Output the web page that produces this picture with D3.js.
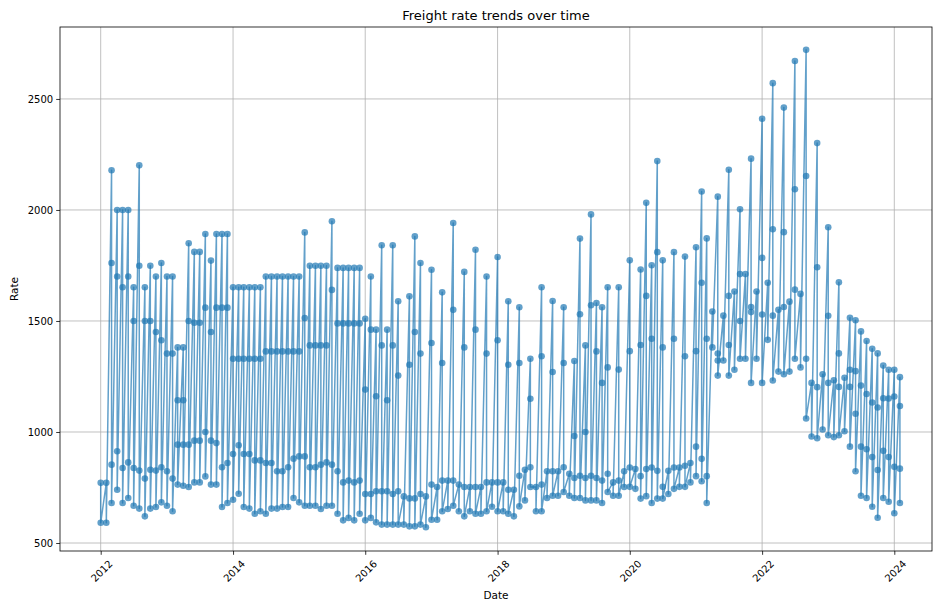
<!DOCTYPE html>
<html>
<head>
<meta charset="utf-8">
<script src="https://cdn.jsdelivr.net/npm/d3@7"></script>
<style>
  body { margin: 0; background: #fff; }
  svg { font-family: "DejaVu Sans", sans-serif; }
</style>
</head>
<body>
<svg id="chart" width="933" height="605"></svg>
<script>
// one entry per month, Jan 2012 .. Feb 2024 (several quotes per month)
var months = d3.timeMonth.range(new Date(2012, 0, 1), new Date(2024, 2, 1));

var peakRate = [
  null, null, 2179, 2000, 2000, 2000, 1652, 2201, 1652, 1749,
  1700, 1761, 1700, 1700, 1381, 1381, 1850, 1811, 1811, 1892,
  1772, 1892, 1892, 1892, 1652, 1652, 1652, 1652, 1652, 1652,
  1700, 1700, 1700, 1700, 1700, 1700, 1700, 1899, 1749, 1749,
  1749, 1749, 1949, 1739, 1739, 1739, 1739, 1739, 1510, 1700,
  1461, 1841, 1461, 1841, 1589, null, 1611, 1881, 1761, null,
  1731, null, 1629, null, 1941, null, 1721, null, 1821, null,
  1700, null, 1788, null, 1589, null, 1562, null, 1330, null,
  1652, null, 1590, null, 1562, null, 1320, 1871, 1390, 1980,
  1581, 1562, 1652, null, 1652, null, 1773, null, 1732, 2032,
  1751, 2220, 1773, null, 1810, null, 1790, null, 1832, 2083,
  1872, null, 2060, null, 2181, null, 2003, null, 2231, null,
  2411, null, 2571, null, 2461, null, 2671, null, 2721, null,
  2301, null, 1922, null, 1674, null, 1514, 1503, 1453, 1410,
  1375, 1354, 1299, 1280, 1280, 1247
];

var upperRate = [
  null, null, 1761, 1700, 1652, 1700, 1500, 1749, 1500, 1500,
  1450, 1413, 1353, 1353, 1143, 1143, 1500, 1492, 1492, 1560,
  1450, 1560, 1560, 1560, 1330, 1330, 1330, 1330, 1330, 1330,
  1363, 1363, 1363, 1363, 1363, 1363, 1363, 1513, 1390, 1390,
  1390, 1390, 1640, 1489, 1489, 1489, 1489, 1489, 1191, 1461,
  1161, 1390, 1143, 1390, 1254, null, 1303, 1450, 1353, null,
  1401, null, 1311, null, 1550, null, 1381, null, 1461, null,
  1353, null, 1413, null, 1303, null, 1311, null, 1150, null,
  1341, null, 1270, null, 1311, null, 982, 1530, 1000, 1571,
  1363, 1221, 1291, null, 1281, null, 1364, null, 1392, 1613,
  1420, 1810, 1381, null, 1420, null, 1341, null, 1364, 1672,
  1420, null, 1353, null, 1613, null, 1711, null, 1563, null,
  1784, null, 1913, null, 1900, null, 2093, null, 2153, null,
  1742, null, 1523, null, 1354, null, 1280, 1274, 1209, 1171,
  1133, 1110, 1152, 1151, 1160, 1117
];

var lowerRate = [
  771, 771, 853, 913, 838, 863, 838, 826, 790, 830,
  826, 841, 823, 790, 943, 943, 943, 961, 961, 1000,
  961, 950, 841, 860, 901, 940, 901, 901, 872, 872,
  860, 860, 823, 823, 841, 880, 890, 890, 841, 841,
  853, 863, 853, 823, 773, 781, 773, 781, 721, 721,
  733, 733, 733, 721, 733, 710, 701, 701, 721, 710,
  763, 752, 781, 781, 781, 763, 752, 752, 752, 752,
  773, 773, 773, 773, 740, 740, 803, 830, 841, 752,
  763, 823, 823, 823, 841, 812, 793, 803, 793, 803,
  793, 781, 812, 773, 781, 823, 840, 833, 801, 833,
  840, 825, 753, 825, 840, 840, 848, 860, 934, 879,
  801, 1543, 1322, 1524, 1392, 1633, 1500, 1711, 1540, 1633,
  1529, 1672, 1524, 1550, 1563, 1587, 1641, 1622, 1330, 1221,
  1202, 1260, 1221, 1233, 1203, 1244, 1203, 1082, 934, 922,
  887, 829, 915, 887, 843, 835
];

var baseRate = [
  591, 591, 680, 740, 680, 703, 668, 655, 620, 655,
  662, 683, 668, 643, 763, 758, 752, 773, 773, 800,
  763, 763, 662, 680, 695, 722, 662, 655, 632, 643,
  632, 655, 655, 662, 662, 703, 683, 668, 668, 668,
  653, 668, 668, 632, 602, 613, 602, 632, 602, 613,
  593, 583, 583, 583, 583, 583, 575, 575, 583, 571,
  605, 605, 643, 653, 668, 643, 620, 643, 632, 632,
  643, 663, 643, 643, 632, 620, 665, 692, 752, 643,
  643, 703, 713, 713, 730, 713, 703, 703, 692, 692,
  692, 680, 730, 713, 713, 752, 753, 744, 700, 711,
  680, 700, 700, 721, 744, 753, 753, 773, 801, 778,
  680, 1381, 1254, 1322, 1254, 1280, 1330, 1330, 1221, 1330,
  1221, 1415, 1232, 1272, 1260, 1272, 1330, 1291, 1061, 980,
  972, 1011, 985, 977, 985, 1003, 934, 823, 713, 703,
  663, 614, 703, 686, 634, 680
];

var yTicks = [500, 1000, 1500, 2000, 2500];
var xTickYears = [2012, 2014, 2016, 2018, 2020, 2022, 2024];

drawChart();

function drawChart() {
  // rows in file order: each month from the highest quote down to the lowest
  var rows = [];
  months.forEach(function(m, i) {
    [peakRate[i], upperRate[i], lowerRate[i], baseRate[i]].forEach(function(v) {
      if (v != null) rows.push({date: m, rate: v});
    });
  });

  var svg = d3.select('#chart');
  var plotLeft = 60, plotRight = 932, plotTop = 27, plotBottom = 551;

  // 2012-01 and 2024-01 sit at fixed pixels, the frame extends past them
  var xBase = d3.scaleTime()
    .domain([new Date(2012, 0, 1), new Date(2024, 0, 1)])
    .range([100.7, 894.3]);
  var x = d3.scaleTime()
    .domain([xBase.invert(plotLeft), xBase.invert(plotRight)])
    .range([plotLeft, plotRight]);
  var y = d3.scaleLinear().domain([464, 2824]).range([plotBottom, plotTop]);

  var xTicks = xTickYears.map(function(yr) { return new Date(yr, 0, 1); });

  // grid
  svg.append('g')
    .selectAll('line')
    .data(xTicks)
    .enter().append('line')
    .attr('x1', function(d) { return x(d); })
    .attr('x2', function(d) { return x(d); })
    .attr('y1', plotTop).attr('y2', plotBottom)
    .style('stroke', '#b0b0b0').style('stroke-width', 0.8);

  svg.append('g')
    .selectAll('line')
    .data(yTicks)
    .enter().append('line')
    .attr('x1', plotLeft).attr('x2', plotRight)
    .attr('y1', function(d) { return y(d); })
    .attr('y2', function(d) { return y(d); })
    .style('stroke', '#b0b0b0').style('stroke-width', 0.8);

  // series
  var line = d3.line()
    .x(function(d) { return x(d.date); })
    .y(function(d) { return y(d.rate); });

  svg.append('path')
    .datum(rows)
    .attr('d', line)
    .style('fill', 'none')
    .style('stroke', '#1f77b4')
    .style('stroke-opacity', 0.7)
    .style('stroke-width', 1.5)
    .style('stroke-linejoin', 'round');

  svg.append('g')
    .selectAll('circle')
    .data(rows)
    .enter().append('circle')
    .attr('cx', function(d) { return x(d.date); })
    .attr('cy', function(d) { return y(d.rate); })
    .attr('r', 3.3)
    .style('fill', '#1f77b4')
    .style('fill-opacity', 0.7);

  // axes
  var xAxis = svg.append('g')
    .attr('transform', 'translate(0,' + plotBottom + ')')
    .call(d3.axisBottom(x).tickValues(xTicks).tickFormat(d3.timeFormat('%Y')).tickSizeOuter(0).tickSize(3.8));
  xAxis.selectAll('text')
    .style('text-anchor', 'end')
    .attr('x', -1)
    .attr('y', 11)
    .attr('dy', '0.71em')
    .attr('transform', 'rotate(-45)');

  svg.append('g')
    .attr('transform', 'translate(' + plotLeft + ',0)')
    .call(d3.axisLeft(y).tickValues(yTicks).tickFormat(d3.format('d')).tickSizeOuter(0).tickSize(3.8));

  svg.selectAll('.domain').remove();
  svg.selectAll('.tick line').style('stroke', '#000').style('stroke-width', 0.8);
  svg.selectAll('.tick text').style('font-size', '10px').style('fill', '#000')
    .style('font-family', '"DejaVu Sans", sans-serif');

  // frame
  svg.append('rect')
    .attr('x', plotLeft).attr('y', plotTop)
    .attr('width', plotRight - plotLeft).attr('height', plotBottom - plotTop)
    .style('fill', 'none').style('stroke', '#000').style('stroke-width', 0.8);

  svg.append('text')
    .attr('x', (plotLeft + plotRight) / 2).attr('y', 20)
    .attr('text-anchor', 'middle')
    .style('font-size', '13px')
    .text('Freight rate trends over time');

  svg.append('text')
    .attr('x', (plotLeft + plotRight) / 2).attr('y', 599)
    .attr('text-anchor', 'middle')
    .style('font-size', '10.5px')
    .text('Date');

  svg.append('text')
    .attr('transform', 'translate(18,' + (plotTop + plotBottom) / 2 + ') rotate(-90)')
    .attr('text-anchor', 'middle')
    .style('font-size', '10.5px')
    .text('Rate');
}
</script>
</body>
</html>
